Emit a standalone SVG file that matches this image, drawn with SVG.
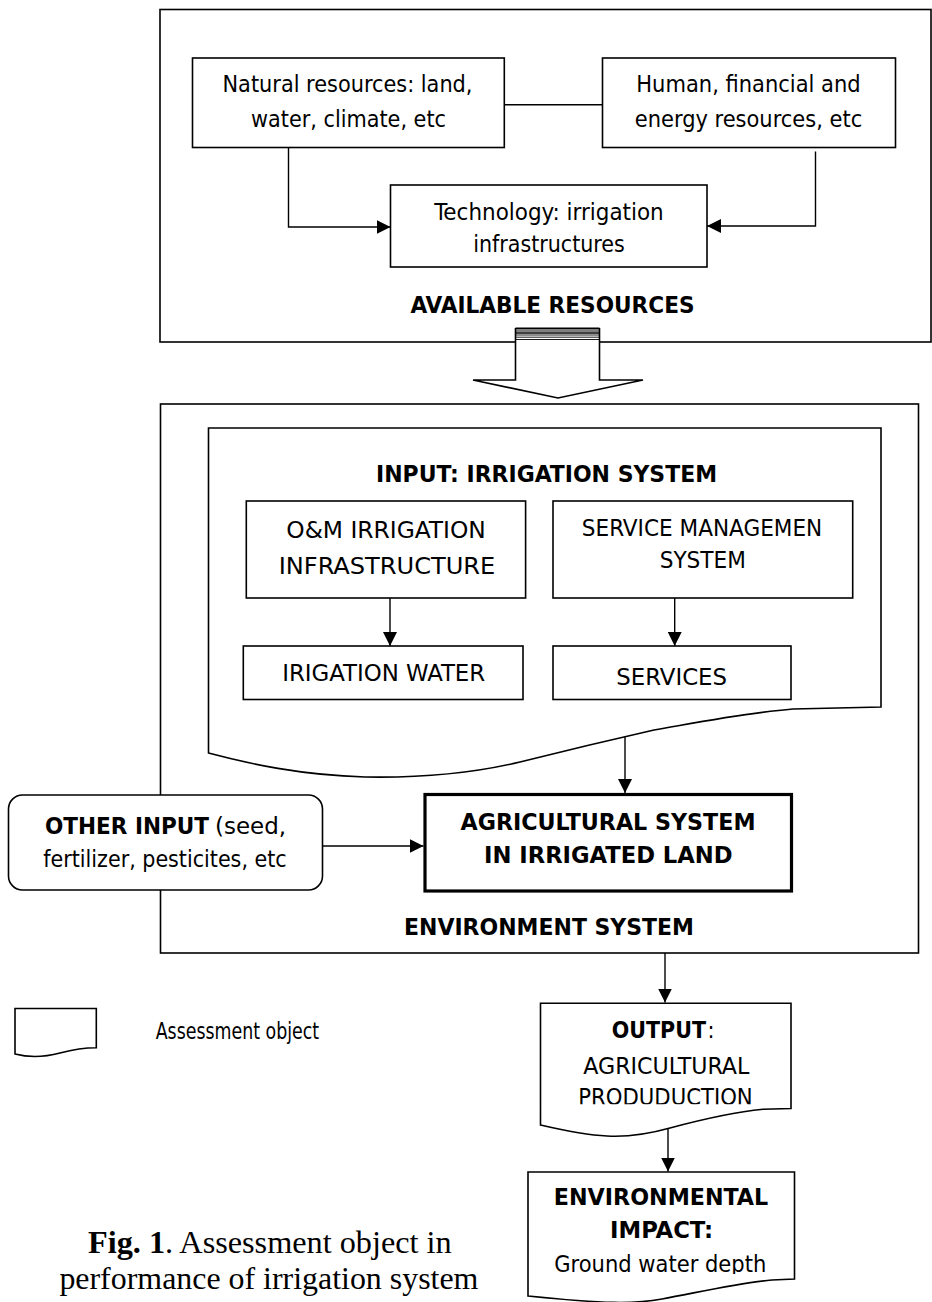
<svg xmlns="http://www.w3.org/2000/svg" width="932" height="1302" viewBox="0 0 932 1302">
<style>
.box{fill:#fff;stroke:#000;stroke-width:1.6}
.ln{fill:none;stroke:#000;stroke-width:1.4}
.t{font-family:"DejaVu Sans Condensed","DejaVu Sans","Liberation Sans",sans-serif;font-size:23px;fill:#000}
.b{font-weight:bold}
.c{text-anchor:middle}
.cap{font-family:"Liberation Serif","Times New Roman",serif;font-size:32px;fill:#000}
</style>
<defs>
<marker id="ah" viewBox="0 0 14 14" markerWidth="14" markerHeight="14" refX="14" refY="7" orient="auto" markerUnits="userSpaceOnUse"><path d="M0,0 L14,7 L0,14 Z" fill="#000"/></marker>
<clipPath id="clipOut"><rect x="540" y="1000" width="260" height="104.3"/></clipPath>
<clipPath id="clipImp"><rect x="528" y="1170" width="270" height="104"/></clipPath>
</defs>

<g id="available-resources">
<rect class="box" x="160" y="9.5" width="771" height="332.5"/>
<text class="t b c" x="552.5" y="313" font-size="23.7" textLength="284" lengthAdjust="spacingAndGlyphs">AVAILABLE RESOURCES</text>
</g>

<g id="natural-resources">
<rect class="box" x="192.5" y="58" width="311.8" height="89.5"/>
<text class="t c" x="347.5" y="91.7" textLength="250" lengthAdjust="spacingAndGlyphs">Natural resources: land,</text>
<text class="t c" x="348.5" y="126.5" textLength="195" lengthAdjust="spacingAndGlyphs">water, climate, etc</text>
</g>

<g id="human-resources">
<rect class="box" x="602.5" y="58" width="293" height="89.5"/>
<text class="t c" x="748.5" y="91.7" textLength="224.4" lengthAdjust="spacingAndGlyphs">Human, financial and</text>
<text class="t c" x="748.5" y="126.5" textLength="227.4" lengthAdjust="spacingAndGlyphs">energy resources, etc</text>
</g>

<g id="technology">
<rect class="box" x="390.5" y="185" width="316.5" height="82"/>
<text class="t c" x="549" y="220" textLength="229.4" lengthAdjust="spacingAndGlyphs">Technology: irrigation</text>
<text class="t c" x="549" y="252" textLength="151.6" lengthAdjust="spacingAndGlyphs">infrastructures</text>
</g>

<g id="block-arrow">
<path d="M515.5,328 V380 H473 L558,398 L643,380 H599.5 V328" fill="#fff" stroke="#000" stroke-width="1.6"/>
<line x1="515.5" y1="328.5" x2="599.5" y2="328.5" stroke="#000" stroke-width="2"/>
<line x1="515.5" y1="331" x2="599.5" y2="331" stroke="#000" stroke-width="1.2"/>
<line x1="515.5" y1="333" x2="599.5" y2="333" stroke="#000" stroke-width="1.4"/>
<line x1="515.5" y1="335" x2="599.5" y2="335" stroke="#000" stroke-width="0.9"/>
<line x1="515.5" y1="337.2" x2="599.5" y2="337.2" stroke="#000" stroke-width="0.9"/>
<line x1="515.5" y1="339.5" x2="599.5" y2="339.5" stroke="#000" stroke-width="0.9"/>
</g>

<g id="environment-system">
<rect class="box" x="160.5" y="404" width="758" height="549"/>
<text class="t b c" x="549" y="935" font-size="22" textLength="290" lengthAdjust="spacingAndGlyphs">ENVIRONMENT SYSTEM</text>
</g>

<g id="irrigation-system">
<path class="box" d="M208.5,428 H881 V707 L793,709 C745,713 700,722 654,730 C610,740 560,752 520,762 C470,774 420,778 365,777 C300,775 250,764 208.5,753 Z"/>
<text class="t b c" x="546.5" y="482" textLength="341" lengthAdjust="spacingAndGlyphs">INPUT: IRRIGATION SYSTEM</text>
</g>

<g id="om-infrastructure">
<rect class="box" x="246.3" y="501" width="279.3" height="97"/>
<text class="t c" x="386" y="538" textLength="199.5" lengthAdjust="spacingAndGlyphs">O&amp;M IRRIGATION</text>
<text class="t c" x="387" y="574" textLength="216.5" lengthAdjust="spacingAndGlyphs">INFRASTRUCTURE</text>
</g>

<g id="service-management">
<rect class="box" x="553" y="501" width="299.7" height="97"/>
<text class="t c" x="702" y="536" textLength="240.4" lengthAdjust="spacingAndGlyphs">SERVICE MANAGEMEN</text>
<text class="t c" x="702.8" y="568" textLength="86.3" lengthAdjust="spacingAndGlyphs">SYSTEM</text>
</g>

<g id="irrigation-water">
<rect class="box" x="243.3" y="646" width="279.7" height="53.5"/>
<text class="t c" x="383.7" y="681" textLength="203" lengthAdjust="spacingAndGlyphs">IRIGATION WATER</text>
</g>

<g id="services">
<rect class="box" x="553" y="646" width="238" height="53.5"/>
<text class="t c" x="671.7" y="685" font-size="25" textLength="110.7" lengthAdjust="spacingAndGlyphs">SERVICES</text>
</g>

<g id="agricultural-system">
<rect x="425" y="794.5" width="366.5" height="96.5" fill="#fff" stroke="#000" stroke-width="3.2"/>
<text class="t b c" x="608" y="830" font-size="22" textLength="295" lengthAdjust="spacingAndGlyphs">AGRICULTURAL SYSTEM</text>
<text class="t b c" x="608.3" y="863" font-size="22" textLength="248.6" lengthAdjust="spacingAndGlyphs">IN IRRIGATED LAND</text>
</g>

<g id="other-input">
<rect class="box" x="8.5" y="795" width="314" height="95" rx="14" ry="14"/>
<text class="t b" x="45" y="834" font-size="21.5" textLength="164" lengthAdjust="spacingAndGlyphs">OTHER INPUT</text>
<text class="t" x="215" y="834" font-size="21.5" textLength="71" lengthAdjust="spacingAndGlyphs">(seed,</text>
<text class="t" x="43.3" y="867.3" font-size="21.5" textLength="243.4" lengthAdjust="spacingAndGlyphs">fertilizer, pesticites, etc</text>
</g>

<g id="output">
<path class="box" d="M540.5,1003.3 H791 V1108.5 L763,1109.3 C735,1112 700,1120 670,1128 C645,1135 625,1137 607,1136 C585,1135 562,1130 540.5,1125 Z"/>
<text class="t b" x="611.7" y="1038.3" font-size="21.5" textLength="94.3" lengthAdjust="spacingAndGlyphs">OUTPUT</text>
<text class="t" x="707.5" y="1038.3" font-size="21.5">:</text>
<text class="t c" x="666.3" y="1074" font-size="21.5" textLength="166" lengthAdjust="spacingAndGlyphs">AGRICULTURAL</text>
<text class="t c" x="665.5" y="1105" font-size="21.5" textLength="174.4" lengthAdjust="spacingAndGlyphs" clip-path="url(#clipOut)">PRODUDUCTION</text>
</g>

<g id="environmental-impact">
<path class="box" d="M528,1172 H794.5 V1279 L772,1280 C738,1283 700,1292 662,1299 C635,1304 605,1304 528,1296 Z"/>
<text class="t b c" x="661" y="1205" font-size="21" textLength="214.5" lengthAdjust="spacingAndGlyphs">ENVIRONMENTAL</text>
<text class="t b c" x="661.6" y="1238" font-size="21" textLength="103" lengthAdjust="spacingAndGlyphs">IMPACT:</text>
<text class="t c" x="660.3" y="1272" font-size="21" textLength="212" lengthAdjust="spacingAndGlyphs" clip-path="url(#clipImp)">Ground water depth</text>
</g>

<g id="legend">
<path class="box" d="M15,1008.5 H96.3 V1047.7 C85,1047.7 75,1049 60,1053 C45,1057 30,1058 15,1054 Z"/>
<text class="t" x="155.7" y="1039" font-size="19.6" textLength="163.5" lengthAdjust="spacingAndGlyphs">Assessment object</text>
</g>

<g id="caption">
<text class="cap" x="88" y="1253" textLength="363.6" lengthAdjust="spacingAndGlyphs"><tspan font-weight="bold">Fig. 1</tspan>. Assessment object in</text>
<text class="cap" x="59.4" y="1289" textLength="419" lengthAdjust="spacingAndGlyphs">performance of irrigation system</text>
</g>

<g id="connectors">
<line class="ln" x1="504.3" y1="104.7" x2="602.5" y2="104.7"/>
<polyline class="ln" points="288.5,147.5 288.5,227 390.5,227" stroke-width="2" marker-end="url(#ah)"/>
<polyline class="ln" points="815.5,151.5 815.5,226 707,226" stroke-width="2" marker-end="url(#ah)"/>
<line class="ln" x1="390" y1="598" x2="390" y2="646" marker-end="url(#ah)"/>
<line class="ln" x1="674.7" y1="598" x2="674.7" y2="646" marker-end="url(#ah)"/>
<line class="ln" x1="625" y1="736.5" x2="625" y2="793" marker-end="url(#ah)"/>
<line class="ln" x1="322.5" y1="846" x2="423.5" y2="846" stroke-width="2.5" marker-end="url(#ah)"/>
<line class="ln" x1="665" y1="953" x2="665" y2="1002.5" marker-end="url(#ah)"/>
<line class="ln" x1="668" y1="1129" x2="668" y2="1171.5" marker-end="url(#ah)"/>
</g>
</svg>
